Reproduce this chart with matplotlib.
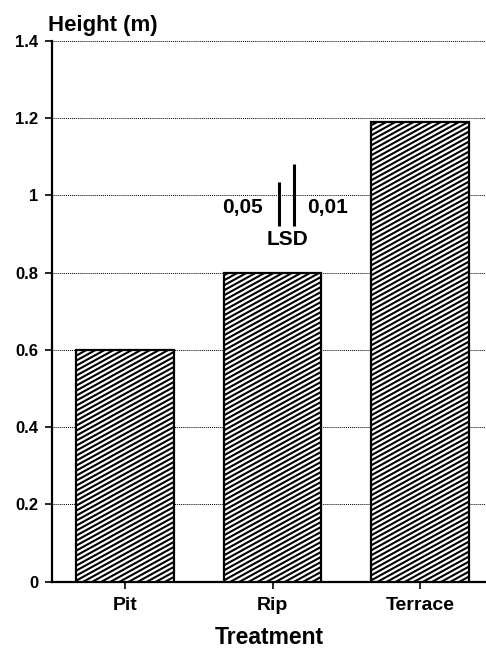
import matplotlib
matplotlib.use('Agg')
import matplotlib.pyplot as plt
from matplotlib.collections import LineCollection
import numpy as np

plt.rcParams['font.family'] = ['Liberation Sans', 'DejaVu Sans']
plt.rcParams['font.weight'] = 'bold'

# data
treatments = ['Pit', 'Rip', 'Terrace']
heights = [0.60, 0.80, 1.19]
yticks = [0, 0.2, 0.4, 0.6, 0.8, 1.0, 1.2, 1.4]
ytick_labels = ['0', '0.2', '0.4', '0.6', '0.8', '1', '1.2', '1.4']
lsd_base = 0.922
lsd_05 = 0.113
lsd_01 = 0.160

fig = plt.figure(figsize=(4.86, 6.49), dpi=100)
ax = fig.add_axes([0.1064, 0.1037, 0.8936, 0.8331])

x = np.arange(len(treatments))
bars = ax.bar(x, heights, width=0.665, color='white', edgecolor='black',
              linewidth=1.6, zorder=3)

ax.set_xlim(-0.5, 2.45)
ax.set_ylim(0, 1.4)
ax.set_yticks(yticks)
ax.set_yticklabels(ytick_labels)
ax.set_xticks(x)
ax.set_xticklabels(treatments)
ax.tick_params(axis='y', length=5, width=1.2, pad=4.5, labelsize=12)
ax.tick_params(axis='x', length=5, width=1.2, pad=6, labelsize=14)
for spine in ['top', 'right']:
    ax.spines[spine].set_visible(False)
ax.spines['left'].set_linewidth(1.6)
ax.spines['bottom'].set_linewidth(1.6)
ax.yaxis.grid(True, linestyle=(0, (1, 1)), color='black', linewidth=0.7)
ax.set_axisbelow(True)

ax.set_xlabel('Treatment', fontsize=16.5, fontweight='bold', labelpad=9)
fig.text(48 / 486, 1 - 31 / 649, 'Height (m)', fontsize=16, fontweight='bold',
         ha='left', va='baseline')

# LSD bars
ax.vlines(1.044, lsd_base, lsd_base + lsd_05, color='black', linewidth=2.2, zorder=4)
ax.vlines(1.148, lsd_base, lsd_base + lsd_01, color='black', linewidth=2.2, zorder=4)
ax.text(0.934, 0.97, '0,05', ha='right', va='center', fontsize=15, fontweight='bold')
ax.text(1.234, 0.97, '0,01', ha='left', va='center', fontsize=15, fontweight='bold')
ax.text(1.105, 0.886, 'LSD', ha='center', va='center', fontsize=15, fontweight='bold')

# shallow diagonal hatching, drawn in pixel space and clipped to each bar
fig.canvas.draw()
slope = 0.55
step = 5.0
for b in bars:
    bb = b.get_window_extent()
    x0, x1, y0, y1 = bb.x0, bb.x1, bb.y0, bb.y1
    w = x1 - x0
    segs = []
    c = y0 - slope * w
    while c < y1:
        segs.append([(x0, c), (x1, c + slope * w)])
        c += step
    lc = LineCollection(segs, colors='black', linewidths=1.5, transform=None, zorder=3.5)
    lc.set_clip_path(b)
    fig.add_artist(lc)

fig.savefig('out.png', dpi=100)
